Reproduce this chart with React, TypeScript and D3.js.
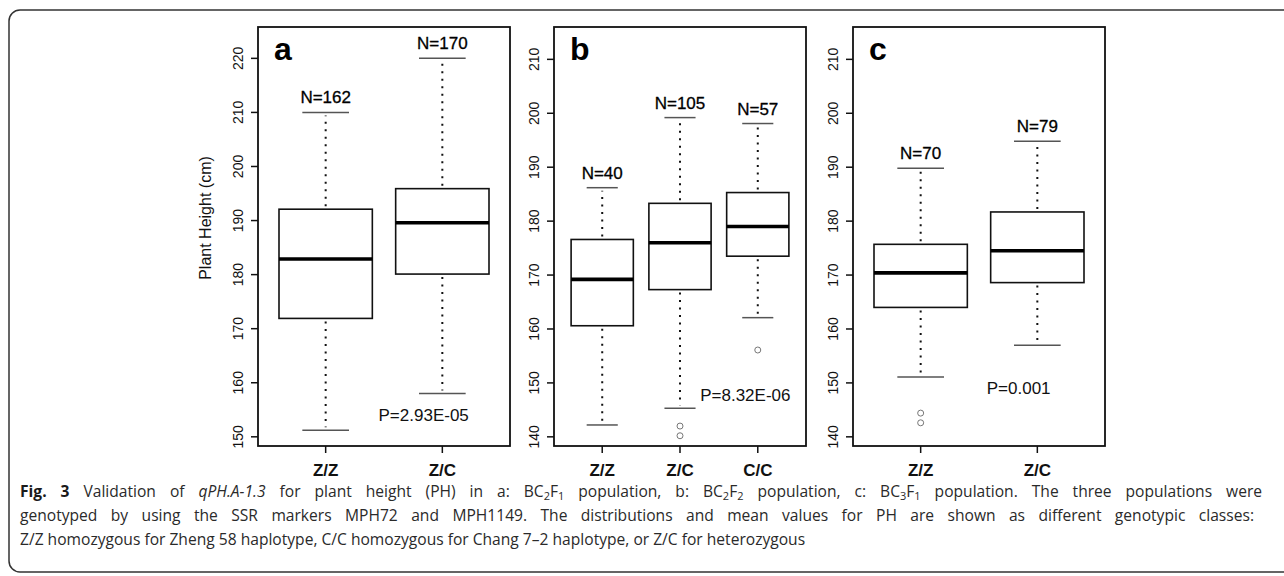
import React, { useRef, useEffect, useState } from 'react';
import * as d3 from 'd3';

// panel a: BC2F1
const groupsA = ['Z/Z', 'Z/C'];
const lowA = [151.2, 158.0];
const q1A = [171.9, 180.1];
const medA = [182.9, 189.6];
const q3A = [192.1, 195.9];
const highA = [210.0, 220.0];
const nA = [162, 170];
const outA = [[], []];

// panel b: BC2F2
const groupsB = ['Z/Z', 'Z/C', 'C/C'];
const lowB = [142.2, 145.3, 162.1];
const q1B = [160.6, 167.3, 173.5];
const medB = [169.2, 176.0, 179.0];
const q3B = [176.6, 183.3, 185.3];
const highB = [186.2, 199.2, 198.1];
const nB = [40, 105, 57];
const outB = [[], [142.0, 140.2], [156.1]];

// panel c: BC3F1
const groupsC = ['Z/Z', 'Z/C'];
const lowC = [151.1, 157.0];
const q1C = [164.0, 168.6];
const medC = [170.4, 174.5];
const q3C = [175.7, 181.7];
const highC = [189.8, 194.8];
const nC = [70, 79];
const outC = [[144.4, 142.6], []];

const ticksA = [150, 160, 170, 180, 190, 200, 210, 220];
const ticksBC = [140, 150, 160, 170, 180, 190, 200, 210];
const pLabels = ['P=2.93E-05', 'P=8.32E-06', 'P=0.001'];

const panels = [
  { letter: 'a', groups: groupsA, low: lowA, q1: q1A, med: medA, q3: q3A, high: highA, n: nA, out: outA,
    ticks: ticksA, yDomain: [148.3, 225.8], left: 258, p: pLabels[0], pPos: [1.84, 154.1], title: true },
  { letter: 'b', groups: groupsB, low: lowB, q1: q1B, med: medB, q3: q3B, high: highB, n: nB, out: outB,
    ticks: ticksBC, yDomain: [138.3, 216.0], left: 554, p: pLabels[1], pPos: [2.84, 147.7], title: false },
  { letter: 'c', groups: groupsC, low: lowC, q1: q1C, med: medC, q3: q3C, high: highC, n: nC, out: outC,
    ticks: ticksBC, yDomain: [138.3, 216.0], left: 853, p: pLabels[2], pPos: [1.84, 149.0], title: false },
];

const W = 1284;
const H = 576;
const top = 27;
const bottom = 446;
const pw = 252;
const font = 'Liberation Sans, Arial, Helvetica, sans-serif';

function Panel({ cfg }) {
  const n = cfg.groups.length;
  const pad = 0.5 + 0.04 * n;
  const x = d3.scaleLinear().domain([1 - pad, n + pad]).range([cfg.left, cfg.left + pw]);
  const y = d3.scaleLinear().domain(cfg.yDomain).range([bottom, top]);
  const bw = (x(2) - x(1)) * 0.8;

  return (
    <g>
      {cfg.groups.map((g, i) => {
        const cx = x(i + 1);
        return (
          <g key={g}>
            {/* whiskers */}
            <line x1={cx} x2={cx} y1={y(cfg.q3[i]) - 3} y2={y(cfg.high[i]) + 3}
              stroke="#111" strokeWidth={2} strokeDasharray="2,5.5" />
            <line x1={cx} x2={cx} y1={y(cfg.q1[i]) + 3} y2={y(cfg.low[i]) - 3}
              stroke="#111" strokeWidth={2} strokeDasharray="2,5.5" />
            <line x1={cx - bw / 4} x2={cx + bw / 4} y1={y(cfg.high[i])} y2={y(cfg.high[i])}
              stroke="#555" strokeWidth={1.5} />
            <line x1={cx - bw / 4} x2={cx + bw / 4} y1={y(cfg.low[i])} y2={y(cfg.low[i])}
              stroke="#555" strokeWidth={1.5} />
            {/* box */}
            <rect x={cx - bw / 2} y={y(cfg.q3[i])} width={bw} height={y(cfg.q1[i]) - y(cfg.q3[i])}
              fill="white" stroke="#111" strokeWidth={1.6} />
            <line x1={cx - bw / 2} x2={cx + bw / 2} y1={y(cfg.med[i])} y2={y(cfg.med[i])}
              stroke="#000" strokeWidth={3.6} />
            {cfg.out[i].map((v, j) => (
              <circle key={j} cx={cx} cy={y(v)} r={3} fill="none" stroke="#777" strokeWidth={1} />
            ))}
            <text x={cx} y={y(cfg.high[i]) - 9} textAnchor="middle" fontFamily={font} fontSize={17}
              fill="#000" stroke="#000" strokeWidth={0.3}>{'N=' + cfg.n[i]}</text>
            {/* x tick + label */}
            <line x1={cx} x2={cx} y1={bottom} y2={bottom + 7} stroke="#111" strokeWidth={1.5} />
            <text x={cx} y={bottom + 30} textAnchor="middle" fontFamily={font} fontSize={17}
              fontWeight="bold" fill="#111">{g}</text>
          </g>
        );
      })}
      <rect x={cfg.left} y={top} width={pw} height={bottom - top} fill="none" stroke="#111" strokeWidth={1.8} />
      {cfg.ticks.map((t) => (
        <g key={t}>
          <line x1={cfg.left - 7} x2={cfg.left} y1={y(t)} y2={y(t)} stroke="#111" strokeWidth={1.5} />
          <text transform={`translate(${cfg.left - 20},${y(t)}) rotate(-90)`} textAnchor="middle"
            dy="0.35em" fontFamily={font} fontSize={14} fill="#111">{t}</text>
        </g>
      ))}
      <text x={cfg.left + 16} y={top + 33} fontFamily={font} fontSize={32} fontWeight="bold" fill="#000">
        {cfg.letter}
      </text>
      <text x={x(cfg.pPos[0])} y={y(cfg.pPos[1])} dy="0.35em" textAnchor="middle" fontFamily={font}
        fontSize={17} fill="#111">{cfg.p}</text>
      {cfg.title && (
        <text transform={`translate(205,218) rotate(-90)`} textAnchor="middle" dy="0.35em"
          fontFamily={font} fontSize={16} fill="#111">Plant Height (cm)</text>
      )}
    </g>
  );
}

const capFont = 'Open Sans, Noto Sans, sans-serif';
const capTargets = [1242, 1234];

export default function App() {
  const line1 = useRef(null);
  const line2 = useRef(null);
  const [ws, setWs] = useState([0, 0]);

  // justify the first two caption lines by widening the word gaps (after fonts are in)
  useEffect(() => {
    let alive = true;
    const measure = () => {
      if (!alive) return;
      const out = [line1, line2].map((r, i) => {
        const el = r.current;
        if (!el) return 0;
        el.setAttribute('word-spacing', '0');
        const len = el.getComputedTextLength();
        const spaces = (el.textContent.match(/ /g) || []).length;
        return spaces ? Math.max(0, (capTargets[i] - len) / spaces) : 0;
      });
      setWs(out);
    };
    if (document.fonts && document.fonts.ready) {
      document.fonts.ready.then(measure);
    } else {
      measure();
    }
    return () => {
      alive = false;
    };
  }, []);

  const sub = (s) => (
    <tspan fontSize={11} baselineShift="-3">{s}</tspan>
  );
  return (
    <svg width={W} height={H} style={{ position: 'absolute', left: 0, top: 0, background: 'white' }}>
      <rect x={9} y={10} width={W + 20} height={562} rx={11} fill="white" stroke="#333" strokeWidth={1.5} />
      {panels.map((p) => (
        <Panel key={p.letter} cfg={p} />
      ))}
      <g fontFamily={capFont} fontSize={15.6} fill="#2a2a2a">
        <text ref={line1} x={20} y={497} wordSpacing={ws[0]}>
          <tspan fontWeight="bold" fill="#1a1a1a">Fig. 3</tspan>
          <tspan> Validation of </tspan>
          <tspan fontStyle="italic">qPH.A-1.3</tspan>
          <tspan> for plant height (PH) in a: BC</tspan>{sub('2')}<tspan>F</tspan>{sub('1')}
          <tspan> population, b: BC</tspan>{sub('2')}<tspan>F</tspan>{sub('2')}
          <tspan> population, c: BC</tspan>{sub('3')}<tspan>F</tspan>{sub('1')}
          <tspan> population. The three populations were</tspan>
        </text>
        <text ref={line2} x={20} y={521} wordSpacing={ws[1]}>
          genotyped by using the SSR markers MPH72 and MPH1149. The distributions and mean values for PH are shown as different genotypic classes:
        </text>
        <text x={20} y={545}>
          Z/Z homozygous for Zheng 58 haplotype, C/C homozygous for Chang 7–2 haplotype, or Z/C for heterozygous
        </text>
      </g>
    </svg>
  );
}
